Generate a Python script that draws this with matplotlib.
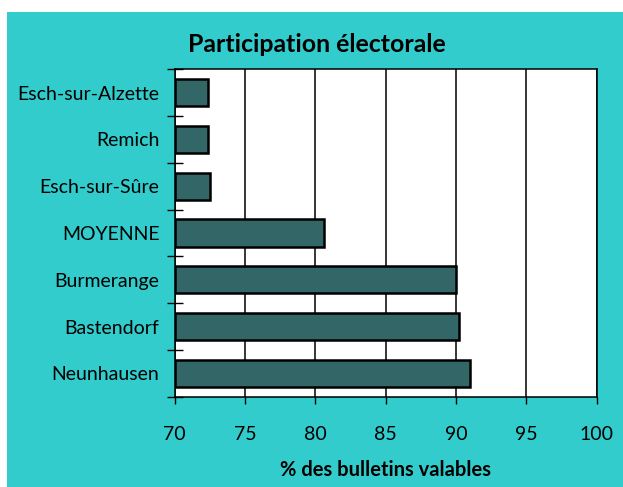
import matplotlib.pyplot as plt
import matplotlib.patches as mpatches
import numpy as np

# data, top to bottom as in the chart
communes = ["Esch-sur-Alzette", "Remich", "Esch-sur-Sûre", "MOYENNE",
            "Burmerange", "Bastendorf", "Neunhausen"]
participation = [72.35, 72.4, 72.5, 80.6, 90.0, 90.2, 91.0]
xticks = [70, 75, 80, 85, 90, 95, 100]

teal = "#33CCCC"
bar_col = "#336666"

plt.rcParams['font.family'] = ['Lato', 'DejaVu Sans']

fig = plt.figure(figsize=(6.23, 4.87), dpi=100, facecolor="white")
# teal panel behind everything (white strip on top and left)
fig.patches.append(mpatches.Rectangle((7 / 623, 0), 1, 1 - 12 / 487,
                                      transform=fig.transFigure,
                                      facecolor=teal, edgecolor="none", zorder=-10))

ax = fig.add_axes([0.2804, 0.1854, 0.958 - 0.2804, 0.8577 - 0.1854])
ax.set_facecolor("white")

y = np.arange(len(communes))
ax.barh(y, np.array(participation) - 70, left=70, height=0.58,
        color=bar_col, edgecolor="black", linewidth=1.8, zorder=3)

ax.set_xlim(70, 100)
ax.set_ylim(len(communes) - 0.5, -0.5)
ax.set_xticks(xticks)
ax.set_xticklabels([str(t) for t in xticks], fontsize=14)
ax.set_yticks(y)
ax.set_yticklabels(communes, fontsize=14)
ax.tick_params(axis="y", length=0, pad=11)
ax.set_yticks(np.arange(-0.5, len(communes), 1), minor=True)
ax.tick_params(axis="y", which="minor", length=11, direction="inout", width=1)
ax.tick_params(axis="x", length=5, width=1, pad=16, direction="out")

ax.grid(axis="x", color="black", linewidth=1.1, zorder=1)
ax.set_axisbelow(True)
for s in ax.spines.values():
    s.set_linewidth(1.1)

fig.text(0.508, 0.9076, "Participation électorale", ha="center", va="center",
         fontsize=17.9, fontweight="bold")
ax.set_xlabel("% des bulletins valables", fontsize=14.5, fontweight="bold", labelpad=12)

fig.savefig("out.png", dpi=100, facecolor="white")
